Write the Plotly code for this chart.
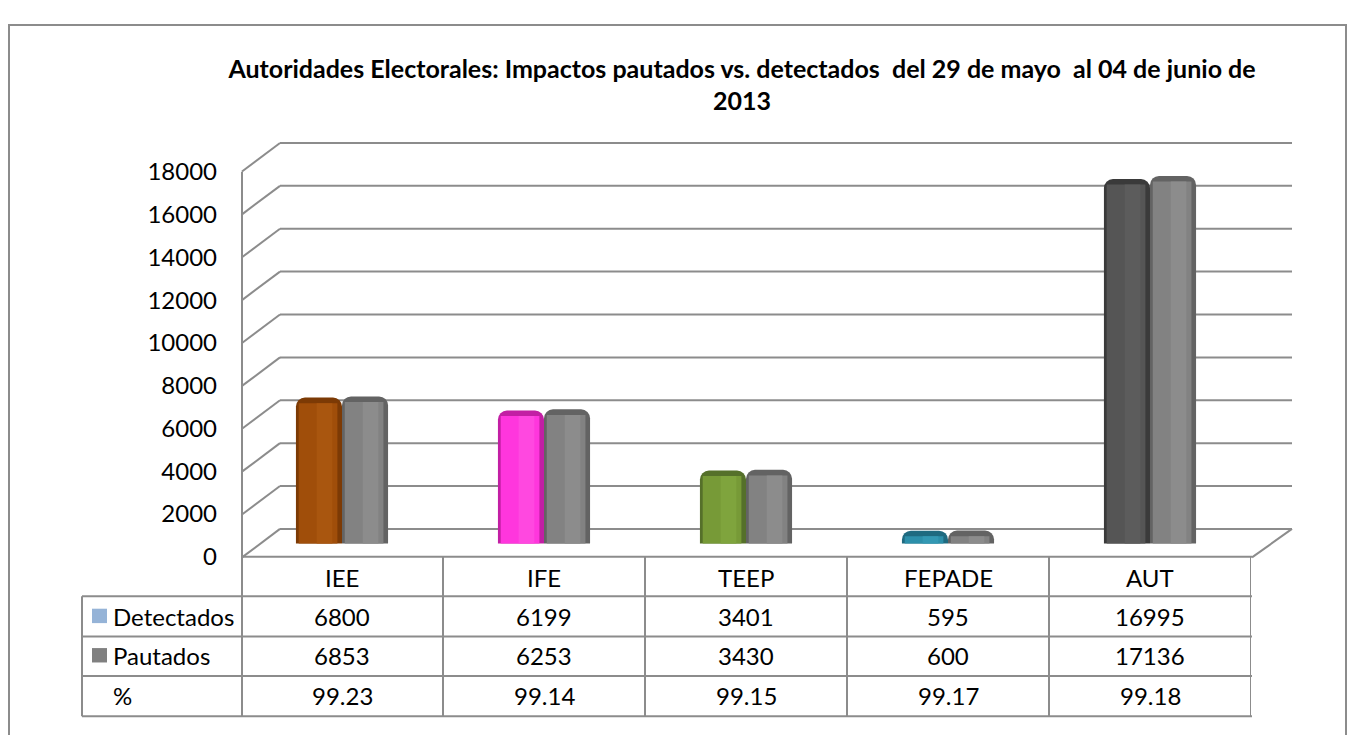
import plotly.graph_objects as go

# the page body keeps an 8px margin, so the figure is sized to fit inside the window
OFF = 8
W, H = 1355 - 2 * OFF, 743 - 2 * OFF

categories = ["IEE", "IFE", "TEEP", "FEPADE", "AUT"]
detectados = [6800, 6199, 3401, 595, 16995]
pautados = [6853, 6253, 3430, 600, 17136]
porcentaje = ["99.23", "99.14", "99.15", "99.17", "99.18"]
y_ticks = list(range(0, 18001, 2000))

# cylinder colours: edge / body / highlight
det_edge = ["#7C3A05", "#C21FA4", "#55702A", "#1E6A80", "#3A3A3A"]
det_body = ["#A04E0A", "#FF36DD", "#779A37", "#2C8FAA", "#555555"]
det_light = ["#A9560F", "#FF48E0", "#7FA43D", "#3398B3", "#5C5C5C"]
pau_edge, pau_body, pau_light = "#636363", "#828282", "#8C8C8C"

FONT = "Lato"
GRID = "#8C8C8C"
CAP = 260  # dark top rim of each cylinder, in value units


def px(x):
    return (x - OFF) / W


def py(y):
    return 1 - (y - OFF) / H


# value axis of the bars: 0 at y=549 px, 18000 at y=147 px (mid depth of the 3D box).
# it is padded a little so the back-wall lines above/below are not clipped
Y0_PX, Y1_PX, YMAX = 549, 147, 18000
K = (Y0_PX - Y1_PX) / YMAX
PAD = 1000
bar_domain = [py(Y0_PX + PAD * K), py(Y1_PX - PAD * K)]

BW = 0.228  # one cylinder, in category units

fig = go.Figure()


def cylinder(values, offset, edge, body, light, name):
    inner = [v - CAP for v in values]
    fig.add_trace(go.Bar(x=categories, y=values, name=name, width=BW, offset=offset,
                         marker=dict(color=edge, line=dict(width=0), cornerradius=9),
                         showlegend=False))
    fig.add_trace(go.Bar(x=categories, y=inner, width=BW * 0.84, offset=offset + BW * 0.06,
                         marker=dict(color=body, line=dict(width=0)), showlegend=False,
                         hoverinfo="skip"))
    fig.add_trace(go.Bar(x=categories, y=inner, width=BW * 0.34, offset=offset + BW * 0.45,
                         marker=dict(color=light, line=dict(width=0)), showlegend=False,
                         hoverinfo="skip"))


cylinder(detectados, -BW, det_edge, det_body, det_light, "Detectados")
cylinder(pautados, 0, pau_edge, pau_body, pau_light, "Pautados")

# carrier for the front-wall tick labels
fig.add_trace(go.Scatter(x=categories, y=pautados, yaxis="y2", mode="none",
                         hoverinfo="skip", showlegend=False))

shapes = []
line = dict(color=GRID, width=2)
# back wall gridlines and side-wall diagonals
for v in y_ticks:
    shapes.append(dict(type="line", layer="below", xref="paper", yref="y", ysizemode="pixel",
                       yanchor=v, x0=px(280), x1=px(1292), y0=14.5, y1=14.5, line=line))
    shapes.append(dict(type="line", layer="below", xref="paper", yref="y", ysizemode="pixel",
                       yanchor=v, x0=px(242), x1=px(280), y0=-14, y1=14.5, line=line))
# floor right edge
shapes.append(dict(type="line", layer="below", xref="paper", yref="y", ysizemode="pixel",
                   yanchor=0, x0=px(1252), x1=px(1292), y0=-14, y1=14.5, line=line))
# front wall vertical
shapes.append(dict(type="line", xref="paper", yref="paper", x0=px(242), x1=px(242),
                   y0=py(162), y1=py(729), line=line))

# data table
row_y = [563, 604, 646, 687, 729]
shapes.append(dict(type="line", xref="paper", yref="paper", x0=px(242), x1=px(1252),
                   y0=py(563), y1=py(563), line=line))
for yy in row_y[1:]:
    shapes.append(dict(type="line", xref="paper", yref="paper", x0=px(82), x1=px(1252),
                       y0=py(yy), y1=py(yy), line=line))
shapes.append(dict(type="line", xref="paper", yref="paper", x0=px(82), x1=px(82),
                   y0=py(604), y1=py(729), line=line))
for i in range(1, len(categories) + 1):
    shapes.append(dict(type="line", xref="x", yref="paper", x0=i - 0.5, x1=i - 0.5,
                       y0=py(563), y1=py(729), line=line))
# legend keys
shapes.append(dict(type="rect", xref="paper", yref="paper", x0=px(92), x1=px(107),
                   y0=py(617), y1=py(632), fillcolor="#95B3D7", line=dict(width=0)))
shapes.append(dict(type="rect", xref="paper", yref="paper", x0=px(92), x1=px(107),
                   y0=py(658), y1=py(673), fillcolor="#808080", line=dict(width=0)))
# chart border
shapes.append(dict(type="rect", xref="paper", yref="paper", x0=px(9), x1=px(1346),
                   y0=py(760), y1=py(9), line=dict(color=GRID, width=2)))

annotations = []
tfont = dict(family=FONT, size=24, color="#000000")
row_centers = [585, 625, 666, 707]
for i, c in enumerate(categories):
    annotations.append(dict(x=c, y=py(row_centers[0]), xref="x", yref="paper", text=c,
                            xanchor="center", yanchor="middle", showarrow=False, font=tfont))
    for rc, vals in zip(row_centers[1:], [detectados, pautados, porcentaje]):
        annotations.append(dict(x=c, y=py(rc), xref="x", yref="paper", text=str(vals[i]),
                                xanchor="center", yanchor="middle", showarrow=False,
                                font=tfont))
for rc, lab in zip(row_centers[1:], ["Detectados", "Pautados", "%"]):
    annotations.append(dict(x=px(111), y=py(rc), xref="paper", yref="paper", text=lab,
                            xanchor="left", yanchor="middle", showarrow=False, font=tfont))

fig.update_layout(
    width=W, height=H,
    margin=dict(l=0, r=0, t=0, b=0),
    paper_bgcolor="white", plot_bgcolor="rgba(0,0,0,0)",
    barmode="overlay",
    showlegend=False,
    title=dict(
        text="<b>Autoridades Electorales: Impactos pautados vs. detectados\u00a0 del 29 de mayo\u00a0 al 04 de junio de<br>2013</b>",
        x=px(742), xanchor="center", xref="paper", yref="container",
        y=py(77.5), yanchor="middle",
        font=dict(family=FONT, size=25, color="#000000"),
    ),
    xaxis=dict(domain=[px(241), px(1251)], range=[-0.5, 4.5], showticklabels=False,
               showgrid=False, zeroline=False, showline=False, ticks=""),
    yaxis=dict(domain=bar_domain, range=[-PAD, YMAX + PAD], showticklabels=False,
               showgrid=False, zeroline=False, showline=False, ticks=""),
    # front edge of the side wall carries the tick labels
    yaxis2=dict(domain=[py(563), py(162)], range=[0, YMAX], anchor="free",
                position=px(242), side="left", tickvals=y_ticks, tickformat="d",
                showgrid=False, zeroline=False, showline=False, ticks="",
                ticklabelstandoff=25, tickfont=tfont),
    shapes=shapes,
    annotations=annotations,
)

fig.write_html("out.html")
